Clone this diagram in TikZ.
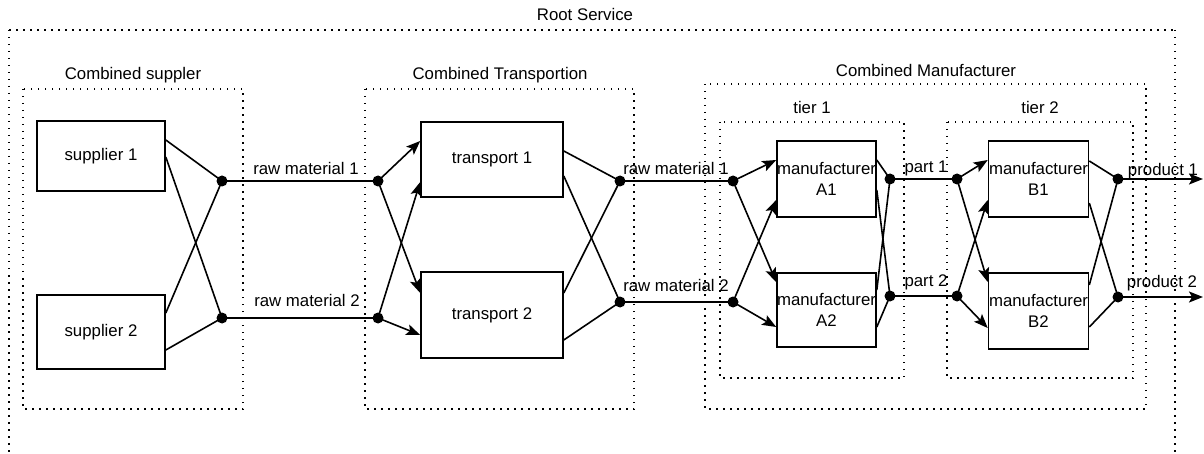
\documentclass[tikz,border=0pt]{standalone}
\usepackage{fontspec}
\setmainfont{Liberation Sans}
\usetikzlibrary{arrows.meta}
\begin{document}
\begin{tikzpicture}[x=1pt,y=-1pt,
  every node/.style={font=\fontsize{16.8}{21}\selectfont},
  box/.style={draw,line width=1.6pt,inner sep=0pt,align=center},
  container/.style={line width=1.5pt,dash pattern=on 1.5pt off 5.5pt},
  jdot/.style={circle,fill,inner sep=0pt,minimum size=11pt},
  wire/.style={line width=1.6pt},
  arr/.style={line width=1.6pt,-{Stealth[length=14pt,width=11pt,inset=3pt]}},
  lbl/.style={inner sep=0pt}]
\useasboundingbox (0,0) rectangle (1204,454);

% containers
\draw[container] (9,30) -- (9,470) (1175,30) -- (1175,470) (9,30) -- (1175,30);
\draw[container] (23,89) rectangle (243,409);
\draw[container] (365,89) rectangle (634,409);
\draw[container] (705,84) rectangle (1146,409);
\draw[container] (720,122) rectangle (904,378);
\draw[container] (947,122) rectangle (1133,378);

% titles
\node[lbl] (troot) at (585,14) {Root Service};
\node[lbl] (tsup) at (133,75) {Combined suppler};
\node[lbl] (ttra) at (500,75) {Combined Transportion};
\node[lbl] (tman) at (926,70) {Combined Manufacturer};
\node[lbl] (tier1) at (812,107) {tier 1};
\node[lbl] (tier2) at (1040,107) {tier 2};

% boxes
\node[box,minimum width=128pt,minimum height=70pt] (sup1) at (101,156) {supplier 1};
\node[box,minimum width=128pt,minimum height=74pt] (sup2) at (101,332) {supplier 2};
\node[box,minimum width=142pt,minimum height=75pt] (t1) at (492,159.5) {transport 1};
\node[box,minimum width=142pt,minimum height=86pt] (t2) at (492,315) {transport 2};
\node[box,minimum width=99pt,minimum height=76pt] (A1) at (826.5,179) {manufacturer\\A1};
\node[box,minimum width=99pt,minimum height=74pt] (A2) at (826.5,310) {manufacturer\\A2};
\node[box,minimum width=100pt,minimum height=76pt] (B1) at (1038.5,179) {manufacturer\\B1};
\node[box,minimum width=100pt,minimum height=76pt] (B2) at (1038.5,311) {manufacturer\\B2};

% junction dots
\node[jdot] (d1) at (222,181) {};
\node[jdot] (d2) at (222,318) {};
\node[jdot] (e1) at (378,181) {};
\node[jdot] (e2) at (378,318) {};
\node[jdot] (f1) at (620,181) {};
\node[jdot] (f2) at (620,302) {};
\node[jdot] (g1) at (733,181) {};
\node[jdot] (g2) at (733,302) {};
\node[jdot] (h1) at (890,179) {};
\node[jdot] (h2) at (890,296) {};
\node[jdot] (i1) at (957,179) {};
\node[jdot] (i2) at (957,296) {};
\node[jdot] (j1) at (1118,179) {};
\node[jdot] (j2) at (1118,297) {};
\coordinate (o1) at (1203,179);
\coordinate (o2) at (1203,297);

% supplier section
\draw[wire] ([yshift=16pt]sup1.east) -- (d1.center);
\draw[wire] ([yshift=-1pt]sup1.east) -- (d2.center);
\draw[wire] ([yshift=19pt]sup2.east) -- (d1.center);
\draw[wire] ([yshift=-18pt]sup2.east) -- (d2.center);
\draw[wire] (d1.center) -- (e1.center);
\draw[wire] (d2.center) -- (e2.center);
\node[lbl] (rm1a) at (306,168) {raw material 1};
\node[lbl] (rm2a) at (307,300) {raw material 2};

% transport section
\draw[arr] (e1.center) -- ([yshift=18.5pt]t1.west);
\draw[arr] (e2.center) -- ([yshift=-22.5pt]t1.west);
\draw[arr] (e1.center) -- ([yshift=22pt]t2.west);
\draw[arr] (e2.center) -- ([yshift=-20pt]t2.west);
\draw[wire] ([yshift=8.5pt]t1.east) -- (f1.center);
\draw[wire] ([yshift=-16.5pt]t1.east) -- (f2.center);
\draw[wire] ([yshift=22pt]t2.east) -- (f1.center);
\draw[wire] ([yshift=-25pt]t2.east) -- (f2.center);
\draw[wire] (f1.center) -- (g1.center);
\draw[wire] (f2.center) -- (g2.center);
\node[lbl] (rm1b) at (676,168) {raw material 1};
\node[lbl] (rm2b) at (676,285) {raw material 2};

% tier 1
\draw[arr] (g1.center) -- ([yshift=19pt]A1.west);
\draw[arr] (g2.center) -- ([yshift=-21pt]A1.west);
\draw[arr] (g1.center) -- ([yshift=28pt]A2.west);
\draw[arr] (g2.center) -- ([yshift=-17pt]A2.west);
\draw[wire] ([yshift=19pt]A1.east) -- (h1.center);
\draw[wire] ([yshift=-11pt]A1.east) -- (h2.center);
\draw[wire] ([yshift=20pt]A2.east) -- (h1.center);
\draw[wire] ([yshift=-17pt]A2.east) -- (h2.center);
\draw[wire] (h1.center) -- (i1.center);
\draw[wire] (h2.center) -- (i2.center);
\node[lbl] (p1) at (926,168) {part 1};
\node[lbl] (p2) at (926,282) {part 2};

% tier 2
\draw[arr] (i1.center) -- ([yshift=19pt]B1.west);
\draw[arr] (i2.center) -- ([yshift=-21pt]B1.west);
\draw[arr] (i1.center) -- ([yshift=29pt]B2.west);
\draw[arr] (i2.center) -- ([yshift=-17pt]B2.west);
\draw[wire] ([yshift=18pt]B1.east) -- (j1.center);
\draw[wire] ([yshift=-24pt]B1.east) -- (j2.center);
\draw[wire] ([yshift=26pt]B2.east) -- (j1.center);
\draw[wire] ([yshift=-16pt]B2.east) -- (j2.center);
\draw[arr] (j1.center) -- (o1);
\draw[arr] (j2.center) -- (o2);
\node[lbl] (pr1) at (1163,171) {product 1};
\node[lbl] (pr2) at (1162,283) {product 2};
\end{tikzpicture}
\end{document}
